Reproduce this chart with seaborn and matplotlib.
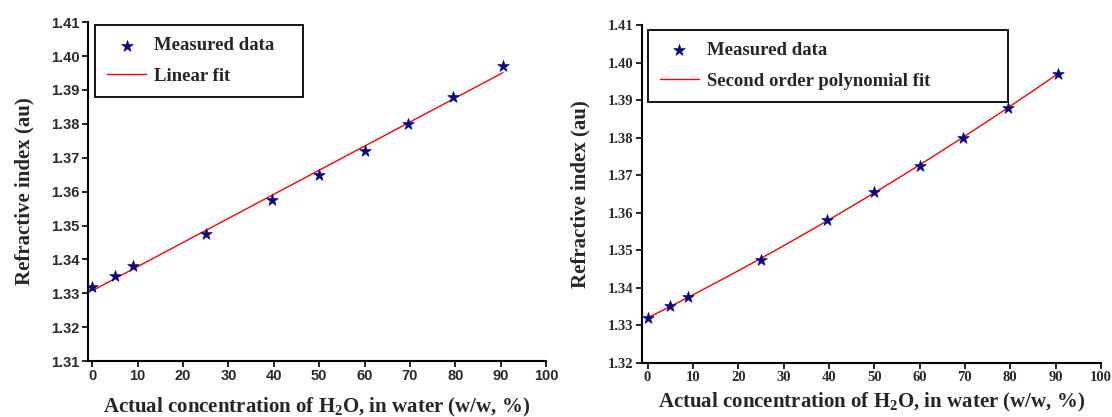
import matplotlib
matplotlib.use('Agg')
import matplotlib.pyplot as plt
import seaborn as sns

# measured concentration of H2O (w/w, %) and refractive index
conc = [0, 5, 9, 25, 39.5, 50, 60, 69.5, 79.5, 90.5]
ri_left = [1.332, 1.335, 1.338, 1.3475, 1.3575, 1.365, 1.372, 1.380, 1.388, 1.397]
ri_right = [1.332, 1.335, 1.3375, 1.3475, 1.358, 1.3655, 1.3725, 1.380, 1.388, 1.397]

x_ticks = list(range(0, 101, 10))
y_ticks_left = [1.31, 1.32, 1.33, 1.34, 1.35, 1.36, 1.37, 1.38, 1.39, 1.40, 1.41]
y_ticks_right = [1.32, 1.33, 1.34, 1.35, 1.36, 1.37, 1.38, 1.39, 1.40, 1.41]

sns.set_style('ticks')
plt.rcParams['font.family'] = ['Liberation Serif', 'DejaVu Serif']
plt.rcParams['font.weight'] = 'bold'
plt.rcParams['mathtext.fontset'] = 'custom'
plt.rcParams['mathtext.rm'] = 'Liberation Serif:bold'
plt.rcParams['mathtext.it'] = 'Liberation Serif:bold'
plt.rcParams['mathtext.bf'] = 'Liberation Serif:bold'

fig = plt.figure(figsize=(11.12, 4.17), dpi=100)
ax1 = fig.add_axes([0.079, 0.134, 0.412, 0.813])
ax2 = fig.add_axes([0.577, 0.130, 0.413, 0.810])

xlabel = 'Actual concentration of H$_2$O, in water (w/w, %)'


def draw_panel(ax, y, order, fit_label, yticks, xmin, tick_font, tick_size, leg_box, xpad):
    sns.scatterplot(x=conc, y=y, ax=ax, marker='*', color='#0a0a80', s=75,
                    edgecolor='#0a0a80', linewidth=0.5, label='Measured data', zorder=3)
    sns.regplot(x=conc, y=y, ax=ax, order=order, scatter=False, ci=None,
                color='red', line_kws=dict(lw=1.0), label=fit_label)
    ax.set_xlim(xmin, 100)
    ax.set_ylim(yticks[0], yticks[-1])
    ax.set_xticks(x_ticks)
    ax.set_yticks(yticks)
    ax.set_xticklabels([str(t) for t in x_ticks], fontfamily=tick_font,
                       fontsize=tick_size, fontweight='bold', color='#2a2a2a')
    ax.set_yticklabels(['%.2f' % t for t in yticks], fontfamily=tick_font,
                       fontsize=tick_size, fontweight='bold', color='#2a2a2a')
    ax.tick_params(direction='out', length=4, width=1.2, color='black', pad=2)
    for s in ['top', 'right']:
        ax.spines[s].set_visible(False)
    for s in ['left', 'bottom']:
        ax.spines[s].set_linewidth(1.5)
        ax.spines[s].set_color('black')
    ax.set_xlabel(xlabel, fontsize=15, fontweight='bold', labelpad=xpad)
    ax.set_ylabel('Refractive index (au)', fontsize=15, fontweight='bold', labelpad=12)
    leg = ax.legend(loc='upper left', bbox_to_anchor=leg_box, mode='expand',
                    frameon=True, fancybox=False, framealpha=1, edgecolor='black',
                    prop=dict(family='Liberation Serif', weight='bold', size=13.5),
                    handlelength=2.1, handletextpad=0.4, borderpad=0.65,
                    labelspacing=0.7, borderaxespad=0)
    leg.get_frame().set_linewidth(1.3)


draw_panel(ax1, ri_left, 1, 'Linear fit', y_ticks_left, -1.0,
           'Liberation Sans', 10.5, (0.015, 0.991, 0.455, 0.0), 9)
draw_panel(ax2, ri_right, 2, 'Second order polynomial fit', y_ticks_right, -1.3,
           'Liberation Serif', 10.5, (0.013, 0.985, 0.785, 0.0), 5)

fig.savefig('out.png', dpi=100)
